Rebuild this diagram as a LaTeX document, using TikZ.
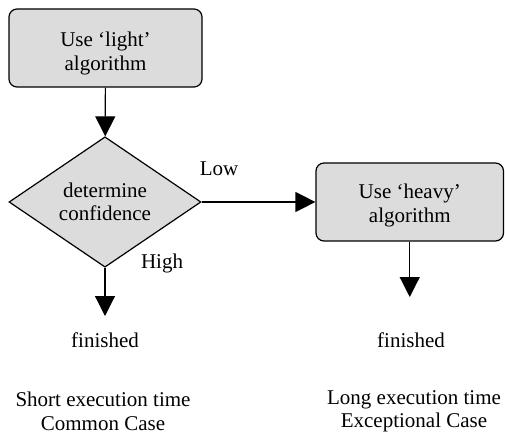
\documentclass[tikz,border=0pt]{standalone}
\usepackage{fontspec}
\setmainfont{Liberation Serif}
\usetikzlibrary{shapes.geometric,arrows.meta}
\definecolor{boxfill}{RGB}{220,220,220}
\begin{document}
\begin{tikzpicture}[x=1pt,y=-1pt,
  every node/.style={font=\fontsize{21}{23.5}\selectfont, inner sep=0pt},
  flowbox/.style={draw, fill=boxfill, line width=1.2pt, rounded corners=8pt, align=center},
  decision/.style={draw, fill=boxfill, line width=1.2pt, diamond, align=center,
                   minimum width=192pt, minimum height=114pt},
  flow/.style={line width=1.2pt, -{Triangle[length=20pt,width=20pt]}},
  endtext/.style={anchor=north, text height=14pt, text depth=0pt},
  caption/.style={align=center}]
\useasboundingbox (0,0) rectangle (505,435);

% process boxes and the decision
\node[flowbox, minimum width=193pt, minimum height=78pt] (light) at (105.5,48)
  {\rule{0pt}{26pt}Use ‘light’\\algorithm};
\node[decision] (conf) at (105,202) {determine\\confidence};
\node[flowbox, minimum width=187.5pt, minimum height=78pt] (heavy) at (409.75,202)
  {\rule{0pt}{22pt}Use ‘heavy’\\algorithm};

% end points
\node[endtext] (fin1) at (105,333) {finished};
\node[endtext] (fin2) at (411,333) {finished};

% branch labels
\node (low) at (219,168.5) {Low};
\node (high) at (162,263) {High};

% connectors
\draw[flow] (light) -- (conf);
\draw[flow] (conf.east) -- (conf.east -| heavy.west);
\draw[flow, shorten >=17pt] (conf.south) -- (conf.south |- fin1.north);
\draw[flow, shorten >=36pt] (heavy.south) -- (heavy.south |- fin2.north);

% captions
\node[caption] (cap1) at (103,411.5) {Short execution time\\Common Case};
\node[caption] (cap2) at (414,411.5) {Long execution time\\Exceptional Case};
\end{tikzpicture}
\end{document}
